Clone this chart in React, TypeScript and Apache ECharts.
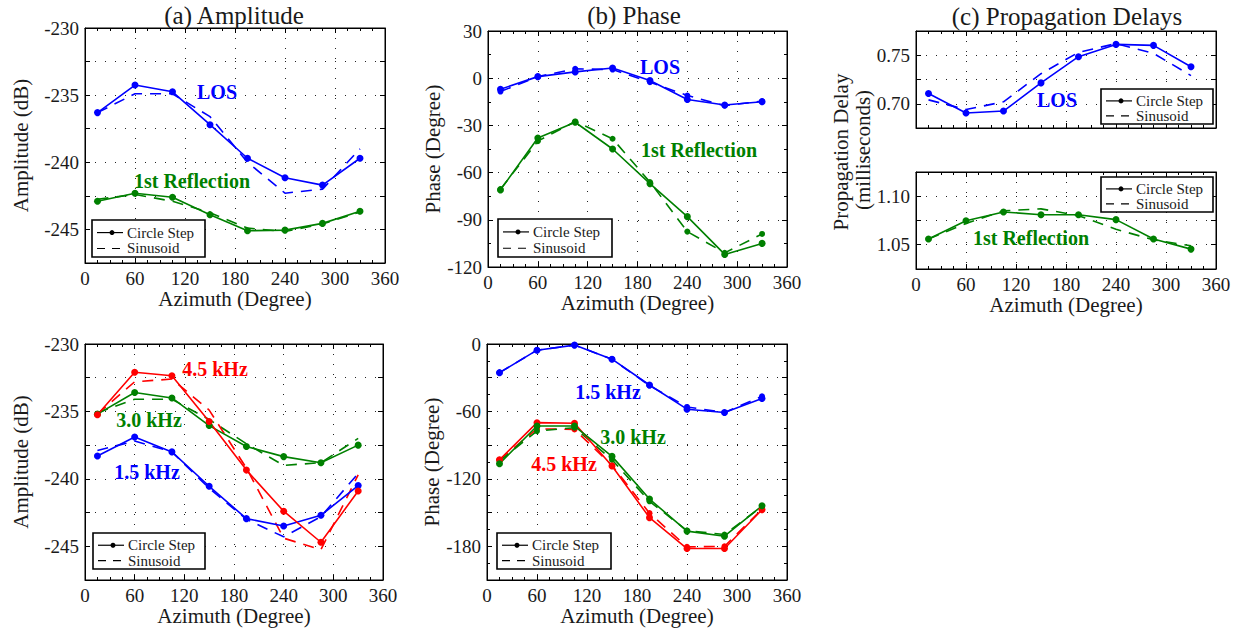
import React, { useEffect, useRef } from "react";
import * as echarts from "echarts";

// ---------------- data ----------------
const azimuth = [15, 60, 105, 150, 195, 240, 285, 330];

// (a) Amplitude
const ampLosStep = [-236.3, -234.25, -234.75, -237.2, -239.7, -241.15, -241.7, -239.7];
const ampLosSin = [-236.3, -234.9, -234.9, -236.6, -240.0, -242.3, -242.0, -239.0];
const ampRefStep = [-242.9, -242.3, -242.6, -243.9, -245.1, -245.05, -244.55, -243.65];
const ampRefSin = [-242.75, -242.4, -242.9, -243.75, -244.9, -245.15, -244.6, -243.7];

// (b) Phase
const phLosStep = [-7, 1, 4, 6.5, -1.5, -13.5, -17, -15];
const phLosSin = [-8.5, 1, 6, 5.5, -2.5, -11, -17.5, -14.5];
const phRefStep = [-71, -38, -28, -45, -67, -88, -112, -105];
const phRefSin = [-70.5, -40, -27.5, -38.5, -66, -97.5, -111, -99];

// (c) Propagation delays (ms)
const delLosStep = [0.7105, 0.6905, 0.6925, 0.7215, 0.7485, 0.7612, 0.7602, 0.7381];
const delLosSin = [0.704, 0.694, 0.702, 0.731, 0.753, 0.762, 0.752, 0.729];
const delRefStep = [1.0559, 1.0748, 1.0838, 1.081, 1.081, 1.0759, 1.0559, 1.0455];
const delRefSin = [1.056, 1.072, 1.085, 1.087, 1.08, 1.066, 1.055, 1.049];

// bottom-left amplitude per frequency
const amp15Step = [-238.3, -236.9, -238.0, -240.55, -242.95, -243.5, -242.7, -240.5];
const amp15Sin = [-237.9, -237.2, -238.0, -240.7, -243.0, -244.3, -242.8, -239.6];
const amp30Step = [-235.2, -233.6, -234.0, -236.05, -237.6, -238.35, -238.8, -237.5];
const amp30Sin = [-235.1, -234.1, -234.1, -235.6, -237.4, -239.0, -238.8, -237.0];
const amp45Step = [-235.25, -232.1, -232.35, -235.75, -239.35, -242.4, -244.7, -240.9];
const amp45Sin = [-235.2, -232.8, -232.6, -234.9, -239.2, -244.4, -245.25, -239.7];

// bottom-middle phase per frequency
const ph15Step = [-25.5, -5.5, -1, -13.5, -36.5, -58, -61, -48.5];
const ph15Sin = [-25.5, -5.5, -1, -13.5, -37, -56, -61, -46.5];
const ph30Step = [-106.5, -73, -73, -100, -138, -166.5, -171, -144];
const ph30Sin = [-104, -77.5, -74.5, -103, -140, -166, -169.5, -144.5];
const ph45Step = [-103, -70, -70.5, -108.5, -154.5, -182, -182, -147.5];
const ph45Sin = [-103, -75.5, -76, -108, -150.5, -180.5, -180, -147];

const legendLabels = ["Circle Step", "Sinusoid"];
const titles = ["(a) Amplitude", "(b) Phase", "(c) Propagation Delays"];

// ---------------- style ----------------
const FONT = "'Liberation Serif', 'Times New Roman', serif";
const BLUE = "#0000ff";
const GREEN = "#008000";
const RED = "#ff0000";
const INK = "#1a1a1a";

type Panel = {
  grid: { left: number; top: number; width: number; height: number };
  y: { min: number; max: number; interval: number; step: number; dec: number; minor?: number };
  yName?: string;
  yGap?: number;
  xLabels: boolean;
  xName: boolean;
  xGap?: number;
};

const AMP_Y = { min: -247.5, max: -230, interval: 2.5, step: 5, dec: 0 };

const panels: Panel[] = [
  { grid: { left: 85, top: 28, width: 300, height: 235 }, y: AMP_Y, yName: "Amplitude (dB)", yGap: 54, xLabels: true, xName: true, xGap: 24 },
  { grid: { left: 488, top: 31, width: 299, height: 236 }, y: { min: -120, max: 30, interval: 30, step: 30, dec: 0, minor: 2 }, yName: "Phase (Degree)", yGap: 44, xLabels: true, xName: true, xGap: 21 },
  { grid: { left: 916, top: 31, width: 300, height: 97 }, y: { min: 0.675, max: 0.775, interval: 0.025, step: 0.05, dec: 2 }, xLabels: false, xName: false },
  { grid: { left: 916, top: 172, width: 300, height: 97 }, y: { min: 1.025, max: 1.125, interval: 0.025, step: 0.05, dec: 2 }, xLabels: true, xName: true, xGap: 19 },
  { grid: { left: 85, top: 344, width: 298, height: 236 }, y: AMP_Y, yName: "Amplitude (dB)", yGap: 54, xLabels: true, xName: true, xGap: 22 },
  { grid: { left: 487, top: 344, width: 300, height: 236 }, y: { min: -210, max: 0, interval: 30, step: 60, dec: 0, minor: 2 }, yName: "Phase (Degree)", yGap: 44, xLabels: true, xName: true, xGap: 22 },
];

type S = { panel: number; data: number[]; color: string; dashed: boolean; marker: boolean };
const seriesDefs: S[] = [
  { panel: 0, data: ampLosSin, color: BLUE, dashed: true, marker: false },
  { panel: 0, data: ampLosStep, color: BLUE, dashed: false, marker: true },
  { panel: 0, data: ampRefSin, color: GREEN, dashed: true, marker: false },
  { panel: 0, data: ampRefStep, color: GREEN, dashed: false, marker: true },
  { panel: 1, data: phLosSin, color: BLUE, dashed: true, marker: true },
  { panel: 1, data: phLosStep, color: BLUE, dashed: false, marker: true },
  { panel: 1, data: phRefSin, color: GREEN, dashed: true, marker: true },
  { panel: 1, data: phRefStep, color: GREEN, dashed: false, marker: true },
  { panel: 2, data: delLosSin, color: BLUE, dashed: true, marker: false },
  { panel: 2, data: delLosStep, color: BLUE, dashed: false, marker: true },
  { panel: 3, data: delRefSin, color: GREEN, dashed: true, marker: false },
  { panel: 3, data: delRefStep, color: GREEN, dashed: false, marker: true },
  { panel: 4, data: amp15Sin, color: BLUE, dashed: true, marker: false },
  { panel: 4, data: amp15Step, color: BLUE, dashed: false, marker: true },
  { panel: 4, data: amp30Sin, color: GREEN, dashed: true, marker: false },
  { panel: 4, data: amp30Step, color: GREEN, dashed: false, marker: true },
  { panel: 4, data: amp45Sin, color: RED, dashed: true, marker: false },
  { panel: 4, data: amp45Step, color: RED, dashed: false, marker: true },
  { panel: 5, data: ph15Sin, color: BLUE, dashed: true, marker: true },
  { panel: 5, data: ph15Step, color: BLUE, dashed: false, marker: true },
  { panel: 5, data: ph45Sin, color: RED, dashed: true, marker: true },
  { panel: 5, data: ph45Step, color: RED, dashed: false, marker: true },
  { panel: 5, data: ph30Sin, color: GREEN, dashed: true, marker: true },
  { panel: 5, data: ph30Step, color: GREEN, dashed: false, marker: true },
];

const annotations = [
  { text: "LOS", x: 217, y: 92, color: BLUE },
  { text: "1st Reflection", x: 192, y: 181, color: GREEN },
  { text: "LOS", x: 660, y: 67, color: BLUE },
  { text: "1st Reflection", x: 699, y: 150, color: GREEN },
  { text: "LOS", x: 1057, y: 100, color: BLUE },
  { text: "1st Reflection", x: 1031, y: 238, color: GREEN },
  { text: "4.5 kHz", x: 215, y: 369, color: RED },
  { text: "3.0 kHz", x: 149, y: 420, color: GREEN },
  { text: "1.5 kHz", x: 147, y: 472, color: BLUE },
  { text: "1.5 kHz", x: 608, y: 392, color: BLUE },
  { text: "3.0 kHz", x: 633, y: 437, color: GREEN },
  { text: "4.5 kHz", x: 564, y: 464, color: RED },
];

const legendBoxes = [
  { x: 92, y: 220, w: 113, h: 37 },
  { x: 498, y: 219, w: 114, h: 38 },
  { x: 1101, y: 89, w: 112, h: 35 },
  { x: 1101, y: 177, w: 112, h: 35 },
  { x: 93, y: 533, w: 112, h: 36 },
  { x: 497, y: 533, w: 114, h: 36 },
];

const dotted = { color: "#222", width: 1, type: [1, 9] as number[] };

function buildOption() {
  const xAxis: any[] = [];
  const yAxis: any[] = [];
  panels.forEach((p, i) => {
    const common = { type: "value", gridIndex: i, min: 0, max: 360, interval: 60 };
    xAxis.push({
      ...common,
      position: "bottom",
      axisLine: { show: true, onZero: false, lineStyle: { color: "#000", width: 1 } },
      axisTick: { show: true, inside: true, length: 5, lineStyle: { color: "#000" } },
      minorTick: { show: true, splitNumber: 4, length: 3, lineStyle: { color: "#000" } },
      axisLabel: { show: p.xLabels, fontFamily: FONT, fontSize: 19, color: INK, margin: 6 },
      splitLine: { show: true, lineStyle: dotted },
      name: p.xName ? "Azimuth (Degree)" : "",
      nameLocation: "middle",
      nameGap: p.xGap ?? 22,
      nameTextStyle: { fontFamily: FONT, fontSize: 21, color: INK },
    });
    xAxis.push({
      ...common,
      position: "top",
      axisLine: { show: true, onZero: false, lineStyle: { color: "#000", width: 1 } },
      axisTick: { show: true, inside: true, length: 5, lineStyle: { color: "#000" } },
      minorTick: { show: true, splitNumber: 4, length: 3, lineStyle: { color: "#000" } },
      axisLabel: { show: false },
      splitLine: { show: false },
    });
    const yc = { type: "value", gridIndex: i, min: p.y.min, max: p.y.max, interval: p.y.interval };
    const fmt = (v: number) => {
      const r = v / p.y.step;
      return Math.abs(r - Math.round(r)) < 1e-6 ? v.toFixed(p.y.dec) : "";
    };
    yAxis.push({
      ...yc,
      position: "left",
      axisLine: { show: true, onZero: false, lineStyle: { color: "#000", width: 1 } },
      axisTick: { show: true, inside: true, length: 5, lineStyle: { color: "#000" } },
      minorTick: { show: !!p.y.minor, splitNumber: p.y.minor || 2, length: 3, lineStyle: { color: "#000" } },
      axisLabel: { fontFamily: FONT, fontSize: 19, color: INK, margin: 6, formatter: fmt, showMinLabel: true, showMaxLabel: true },
      splitLine: { show: true, lineStyle: dotted },
      name: p.yName || "",
      nameLocation: "middle",
      nameRotate: 90,
      nameGap: p.yGap ?? 50,
      nameTextStyle: { fontFamily: FONT, fontSize: 21, color: INK },
    });
    yAxis.push({
      ...yc,
      position: "right",
      axisLine: { show: true, onZero: false, lineStyle: { color: "#000", width: 1 } },
      axisTick: { show: true, inside: true, length: 5, lineStyle: { color: "#000" } },
      minorTick: { show: !!p.y.minor, splitNumber: p.y.minor || 2, length: 3, lineStyle: { color: "#000" } },
      axisLabel: { show: false },
      splitLine: { show: false },
    });
  });

  const series = seriesDefs.map((s) => ({
    type: "line",
    xAxisIndex: s.panel * 2,
    yAxisIndex: s.panel * 2,
    data: azimuth.map((a, k) => [a, s.data[k]]),
    color: s.color,
    symbol: s.marker ? "circle" : "none",
    symbolSize: s.dashed ? 6 : 7,
    showSymbol: s.marker,
    lineStyle: { color: s.color, width: 1.6, type: s.dashed ? [11, 8] : "solid" },
    itemStyle: { color: s.color },
    z: s.dashed ? 3 : 4,
    silent: true,
  }));

  const graphic: any[] = [];
  const titlePos = [
    { x: 234, y: 15 },
    { x: 634, y: 15 },
    { x: 1067, y: 16 },
  ];
  titles.forEach((t, i) =>
    graphic.push({
      type: "text",
      x: titlePos[i].x,
      y: titlePos[i].y,
      style: { text: t, fontFamily: FONT, fontSize: 25, fill: INK, align: "center", verticalAlign: "middle" },
    })
  );
  // two-line y name for panel (c)
  graphic.push({
    type: "text",
    x: 841,
    y: 152,
    rotation: Math.PI / 2,
    style: { text: "Propagation Delay", fontFamily: FONT, fontSize: 21, fill: INK, align: "center", verticalAlign: "middle" },
  });
  graphic.push({
    type: "text",
    x: 863,
    y: 150,
    rotation: Math.PI / 2,
    style: { text: "(milliseconds)", fontFamily: FONT, fontSize: 21, fill: INK, align: "center", verticalAlign: "middle" },
  });
  annotations.forEach((a) =>
    graphic.push({
      type: "text",
      x: a.x,
      y: a.y,
      z: 20,
      style: { text: a.text, fontFamily: FONT, fontSize: 20, fontWeight: "bold", fill: a.color, align: "center", verticalAlign: "middle" },
    })
  );
  legendBoxes.forEach((b) => {
    const r1 = b.y + b.h * 0.34;
    const r2 = b.y + b.h * 0.77;
    graphic.push({ type: "rect", z: 30, shape: { x: b.x, y: b.y, width: b.w, height: b.h }, style: { fill: "#fff", stroke: "#000", lineWidth: 1.6 } });
    graphic.push({ type: "line", z: 31, shape: { x1: b.x + 5, y1: r1, x2: b.x + 31, y2: r1 }, style: { stroke: "#000", lineWidth: 1.2 } });
    graphic.push({ type: "circle", z: 32, shape: { cx: b.x + 20, cy: r1, r: 2.5 }, style: { fill: "#000" } });
    graphic.push({ type: "line", z: 31, shape: { x1: b.x + 5, y1: r2, x2: b.x + 28, y2: r2 }, style: { stroke: "#000", lineWidth: 1.2, lineDash: [8, 7] } });
    graphic.push({ type: "text", z: 32, x: b.x + 35, y: r1, style: { text: legendLabels[0], fontFamily: FONT, fontSize: 15, fill: INK, align: "left", verticalAlign: "middle" } });
    graphic.push({ type: "text", z: 32, x: b.x + 35, y: r2, style: { text: legendLabels[1], fontFamily: FONT, fontSize: 15, fill: INK, align: "left", verticalAlign: "middle" } });
  });

  return {
    animation: false,
    backgroundColor: "#fff",
    grid: panels.map((p) => ({ ...p.grid, show: true, borderColor: "#000", borderWidth: 1, backgroundColor: "#fff", containLabel: false })),
    xAxis,
    yAxis,
    series,
    graphic,
  };
}

export default function App() {
  const ref = useRef<HTMLDivElement>(null);
  useEffect(() => {
    if (!ref.current) return;
    const chart = echarts.init(ref.current, null, { renderer: "svg" });
    chart.setOption(buildOption() as any);
    return () => chart.dispose();
  }, []);
  return (
    <div
      ref={ref}
      style={{ position: "absolute", left: 0, top: 0, width: 1238, height: 631, background: "#fff" }}
    />
  );
}
